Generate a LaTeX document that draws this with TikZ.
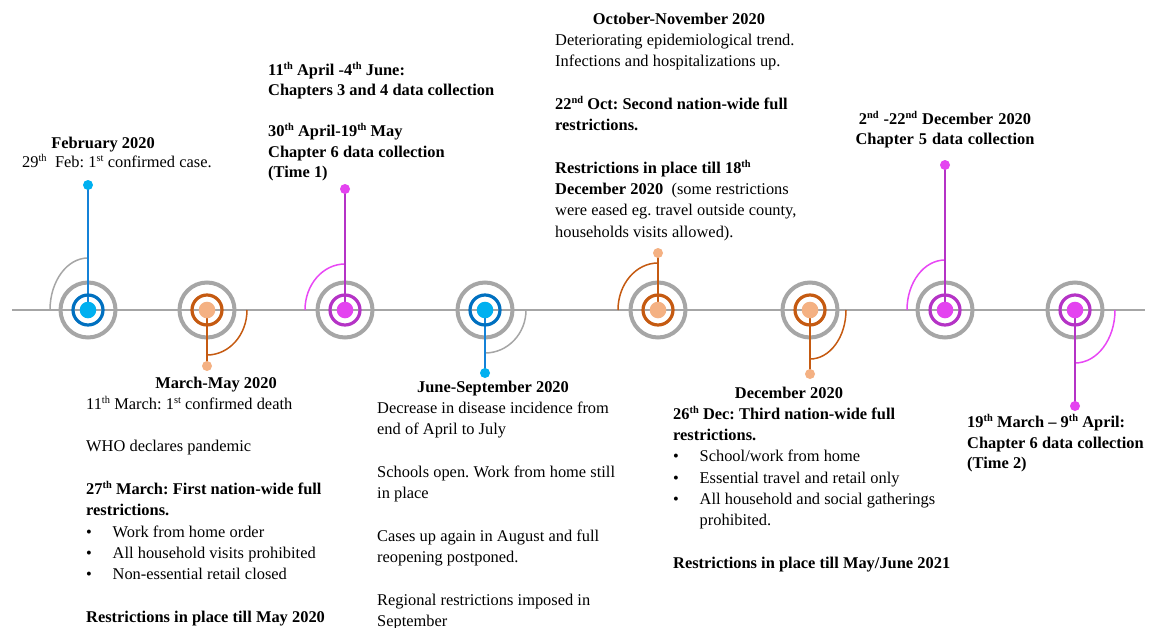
\documentclass[tikz,border=0pt]{standalone}
\usepackage{fontspec}
\setmainfont{Liberation Serif}
\frenchspacing

\definecolor{ringgray}{HTML}{A6A6A6}
\definecolor{bluering}{HTML}{0070C0}
\definecolor{bluedot}{HTML}{00B0F0}
\definecolor{bluestem}{HTML}{1482D8}
\definecolor{orangering}{HTML}{C55A11}
\definecolor{orangedot}{HTML}{F4B183}
\definecolor{purplering}{HTML}{B533C6}
\definecolor{purpledot}{HTML}{E443F0}
\definecolor{magarc}{HTML}{E847F5}

\newlength\bulw
\setlength\bulw{26.5pt}
\newcommand\bul{\makebox[\bulw][l]{\textbullet}}
\newcommand\blankline{\\[\baselineskip]}
\newcommand\sups[1]{\raisebox{0.36em}{\fontsize{10.4}{10}\selectfont #1}}
\newcommand\ordth{\sups{th}}

\begin{document}
\begin{tikzpicture}[x=1pt,y=-1pt,
  % word spaces as wide as the font's own, not the wider ragged ones
  every node/.style={execute at begin node={\spaceskip=4.2pt plus 1pt minus 0.5pt\relax}},
  axis/.style={draw=ringgray,line width=2pt},
  outerring/.style={draw=ringgray,line width=4pt},
  innerring/.style={line width=3.2pt},
  stemline/.style={line width=2pt},
  arcline/.style={line width=1.5pt},
  body/.style={inner sep=0pt,text width=#1,align=left,anchor=base west,
    font=\fontsize{16.4}{21.3}\selectfont},
  boldblock/.style={inner sep=0pt,text width=#1,align=left,anchor=base west,
    font=\fontsize{16.4}{20.5}\selectfont\bfseries},
  ttl/.style={inner sep=0pt,anchor=base,font=\fontsize{16.4}{21.3}\selectfont\bfseries}]

\useasboundingbox (0,0) rectangle (1154,627);
\fill[white] (0,0) rectangle (1154,627);

% the time axis
\coordinate (tl) at (12,310);
\coordinate (tr) at (1145,310);
\draw[axis] (tl) -- (tr);

% markers: centre x / end-dot y / arc radii / arc angles / colours
\foreach \cx/\ey/\xr/\yr/\sa/\ea/\ringc/\dotc/\stemc/\arcc [count=\i] in {
   88/185/38/52/270/180/bluering/bluedot/bluestem/ringgray,
  207/366/40/45/90/0/orangering/orangedot/orangering/orangering,
  345/189/40/46/270/180/purplering/purpledot/purplering/magarc,
  485/373/41/43/90/0/bluering/bluedot/bluestem/ringgray,
  658/253/40/47/270/180/orangering/orangedot/orangering/orangering,
  810/374/36/49/90/0/orangering/orangedot/orangering/orangering,
  945/165/38/50/270/180/purplering/purpledot/purplering/magarc,
 1075/406/40/53/90/0/purplering/purpledot/purplering/magarc}
{
  \coordinate (c\i) at (\cx,310);
  \coordinate (e\i) at (\cx,\ey);
  \draw[arcline,draw=\arcc] (c\i) ++({\xr*cos(\sa)},{\yr*sin(\sa)})
    arc[start angle=\sa,end angle=\ea,x radius=\xr,y radius=\yr];
  \draw[outerring] (c\i) circle[radius=27.5];
  \draw[stemline,draw=\stemc] (c\i) -- (e\i);
  \fill[\dotc] (e\i) circle[radius=5];
  \draw[innerring,draw=\ringc] (c\i) circle[radius=15];
  \fill[\dotc] (c\i) circle[radius=8.3];
}

% February
\node[ttl] (febT) at (103,148) {February 2020};
\node[body=260pt] (febB) at (22,167.5)
  {29\ordth\ \ Feb: 1\sups{st} confirmed case.};

% March-May
\node[ttl] (marT) at (216,388) {March-May 2020};
\node[body=270pt] (marB) at (86,409.3)
  {11\ordth{} March: 1\sups{st} confirmed death\blankline
   WHO declares pandemic\blankline
   \textbf{27\ordth{} March: First nation-wide full}\\
   \textbf{restrictions.}\\
   \bul Work from home order\\
   \bul All household visits prohibited\\
   \bul Non-essential retail closed\blankline
   \textbf{Restrictions in place till May 2020}};

% data collection, first wave
\node[boldblock=260pt] (aprB) at (268,75)
  {11\ordth{} April -4\ordth{} June:\\
   Chapters 3 and 4 data collection\blankline
   30\ordth{} April-19\ordth{} May\\
   Chapter 6 data collection\\
   (Time 1)};

% June-September
\node[ttl] (junT) at (493,392) {June-September 2020};
\node[body=260pt] (junB) at (377,413.3)
  {Decrease in disease incidence from\\
   end of April to July\blankline
   Schools open. Work from home still\\
   in place\blankline
   Cases up again in August and full\\
   reopening postponed.\blankline
   Regional restrictions imposed in\\
   September};

% October-November
\node[ttl] (octT) at (679,24) {October-November 2020};
\node[body=270pt] (octB) at (555,45.3)
  {Deteriorating epidemiological trend.\\
   Infections and hospitalizations up.\blankline
   \textbf{22\sups{nd} Oct: Second nation-wide full}\\
   \textbf{restrictions.}\blankline
   \textbf{Restrictions in place till 18\ordth}\\
   \textbf{December 2020}\ \ (some restrictions\\
   were eased eg. travel outside county,\\
   households visits allowed).};

% December
\node[ttl] (decT) at (789,398) {December 2020};
\node[body=300pt] (decB) at (673,419.3)
  {\textbf{26\ordth{} Dec: Third nation-wide full}\\
   \textbf{restrictions.}\\
   \bul School/work from home\\
   \bul Essential travel and retail only\\
   \bul All household and social gatherings\\
   \hspace*{\bulw}prohibited.\blankline
   \textbf{Restrictions in place till May/June 2021}};

% data collection, second and third waves
\node[inner sep=0pt,text width=230pt,align=center,anchor=base,
  font=\fontsize{16.4}{20}\selectfont\bfseries] (ch5) at (945,124)
  {2\sups{nd} -22\sups{nd} December 2020\\
   Chapter 5 data collection};
\node[boldblock=200pt] (ch6) at (967,427.7)
  {19\ordth{} March \textendash{} 9\ordth{} April:\\
   Chapter 6 data collection\\
   (Time 2)};

\end{tikzpicture}
\end{document}
